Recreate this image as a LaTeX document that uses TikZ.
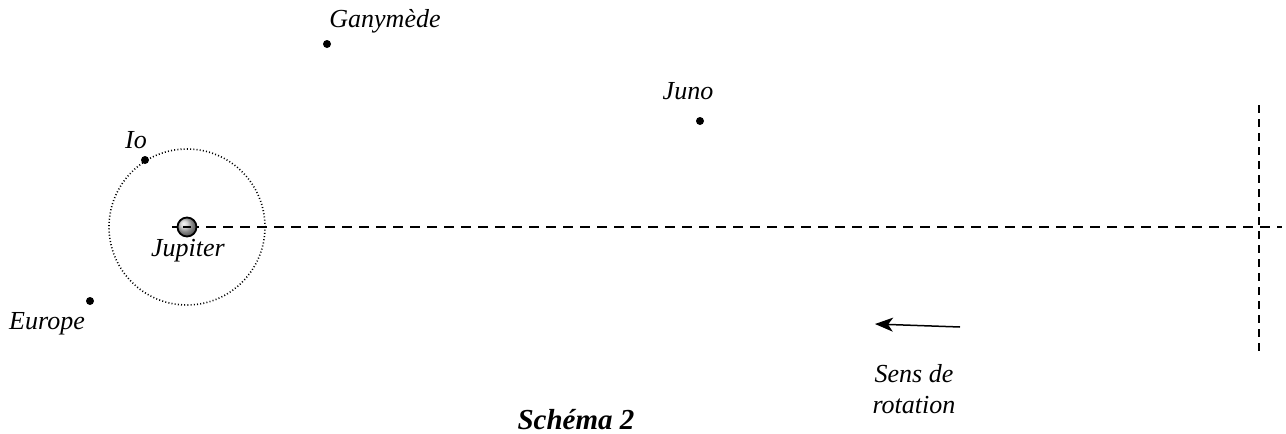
\documentclass[tikz,border=0pt]{standalone}
\usepackage{fontspec}
\setmainfont{Liberation Serif}
\usetikzlibrary{arrows.meta}
\begin{document}
\begin{tikzpicture}[x=0.5pt,y=-0.5pt,
  lbl/.style={font=\fontsize{13}{15}\selectfont\itshape, inner sep=0pt},
  moon/.style={circle, fill=black, inner sep=0pt, minimum size=4pt},
  axis/.style={line width=0.9pt, dash pattern=on 5pt off 3.5pt},
  orbit/.style={line width=0.8pt, dash pattern=on 0.5pt off 1.1pt}]
\useasboundingbox (0,0) rectangle (1286,434);
% orbit of Io
\node[circle, draw, orbit, minimum size=78pt, inner sep=0pt] (orb) at (187,227) {};
% axis
\coordinate (axL) at (172,227);
\coordinate (axR) at (1282,227);
\draw[axis] (axL) -- (axR);
\coordinate (vT) at (1259,105);
\coordinate (vB) at (1259,352);
\draw[line width=0.9pt, dash pattern=on 4pt off 3pt] (vT) -- (vB);
% Jupiter
\node[circle, draw, line width=0.9pt, ball color=gray!45, minimum size=9.5pt, inner sep=0pt] (jup) at (187,227) {};
\draw[line width=0.9pt] ([xshift=-2pt]jup.center) -- ([xshift=2pt]jup.center);
\node[lbl] (jupl) at (188,251) {Jupiter};
% moons
\node[moon] (io) at (145,160) {};
\node[lbl] (iol) at (136,140) {Io};
\node[moon] (eu) at (90,301) {};
\node[lbl] (eul) at (47,324) {Europe};
\node[moon] (ga) at (327,44) {};
\node[lbl] (gal) at (385,21) {Ganymède};
\node[moon] (ju) at (700,121) {};
\node[lbl] (jul) at (688,91) {Juno};
% rotation arrow
\coordinate (arA) at (960,327);
\coordinate (arB) at (875,324);
\draw[line width=0.75pt, -{Stealth[length=9pt,width=7pt,inset=2.5pt]}] (arA) -- (arB);
\node[lbl, align=center, font=\fontsize{13}{15.5}\selectfont\itshape] (sens) at (914,389) {Sens de\\rotation};
\node[inner sep=0pt, font=\fontsize{14.5}{16}\selectfont\bfseries\itshape] (title) at (576,420) {Schéma 2};
\end{tikzpicture}
\end{document}
